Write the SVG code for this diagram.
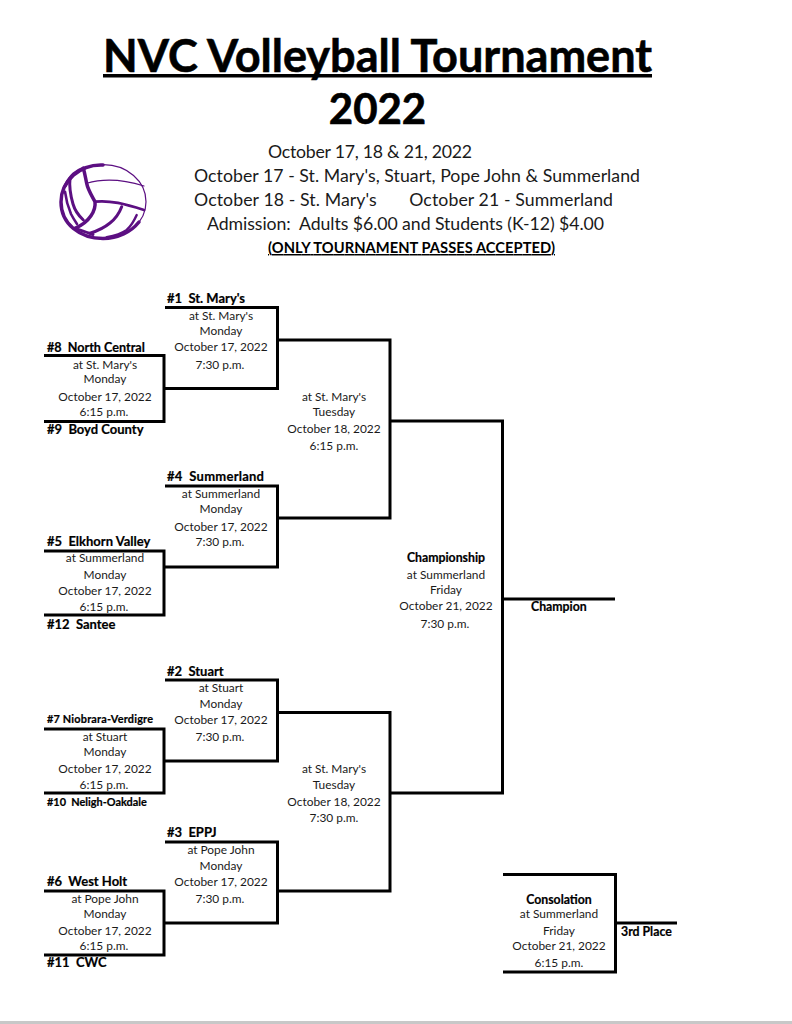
<svg xmlns="http://www.w3.org/2000/svg" width="792" height="1024" viewBox="0 0 792 1024">
<style>
text{font-family:Lato,"Liberation Sans",sans-serif;fill:#1a1a1a}
.t{font-size:11.9px;text-anchor:middle}
.b{font-size:12.3px;font-weight:700;fill:#000;stroke:#000;stroke-width:.2}
.s{font-size:13px}
.n{font-size:10.9px}
.w{fill:none;stroke:#000;stroke-width:3}
.v{fill:none;stroke:#5c0f82;stroke-linecap:round;stroke-linejoin:round}
</style>
<rect width="792" height="1024" fill="#fff"/>
<rect y="1021" width="792" height="3" fill="#c8c8c8"/>
<g id="title">
<text x="103" y="72" textLength="549" lengthAdjust="spacingAndGlyphs" style="font-size:45px;font-weight:700;fill:#000;stroke:#000;stroke-width:.6">NVC Volleyball Tournament</text>
<rect x="103" y="74" width="549" height="3.500" fill="#000"/>
<text x="377.500" y="124" text-anchor="middle" style="font-size:42px;font-weight:700;fill:#000;stroke:#000;stroke-width:.6">2022</text>
</g>
<g id="info">
<text x="268" y="157.500" textLength="204" style="font-size:17.700px">October 17, 18 &amp; 21, 2022</text>
<text x="194" y="182" textLength="446" style="font-size:17.700px">October 17 - St. Mary's, Stuart, Pope John &amp; Summerland</text>
<text x="194" y="206" textLength="419" xml:space="preserve" style="font-size:17.700px">October 18 - St. Mary's       October 21 - Summerland</text>
<text x="207" y="230" textLength="397" xml:space="preserve" style="font-size:17.700px">Admission:  Adults $6.00 and Students (K-12) $4.00</text>
<text x="268" y="253" textLength="287" style="font-size:14.700px;font-weight:700;fill:#000;text-decoration:underline">(ONLY TOURNAMENT PASSES ACCEPTED)</text>
</g>
<g id="volleyball">
<ellipse class="v" stroke-width="1.2" cx="103.500" cy="201.700" rx="42.500" ry="37"/>
<path class="v" stroke-width="3.500" d="M103 165C80 164 61 181 61 202C61 224 80 238.500 103 238.500C118 238.500 131 232 139 222"/>
<path class="v" stroke-width="3.500" d="M83.300 168.300C85 174 85.500 178 86.700 183.300C88 190 92 196 95 201.700C96 210 90 222 75 228.300"/>
<path class="v" stroke-width="1.200" d="M86.700 183.300C104 178 125 180 144 186"/>
<path class="v" stroke-width="2.800" d="M95 201.700C110 200 125 204 144 210"/>
<path class="v" stroke-width="3.500" d="M83.300 168.300C76 171 71 175 65 186"/>
<path class="v" stroke-width="3" d="M70 178.300C69 187 71 197 73 204C75 211 79 216 83.300 220"/>
<path class="v" stroke-width="2.600" d="M65 191.700C66 200 68 207 71 214C73 218 75 221 77 224"/>
<path class="v" stroke-width="3" d="M75 228.300C80 230 86 232 93 234.500"/>
<path class="v" stroke-width="3" d="M121.700 206.700C119 214 115 219 110 223C104 228 97 231 90 233.300"/>
<path class="v" stroke-width="2.400" d="M136.700 215C134 221 131 226 126.700 230C121 234 114 236 106.700 237.300"/>
</g>
<g id="connectors">
<path class="w" d="M165 307.500H277.500V388.500H165"/>
<path class="w" d="M44 355.500H164V421.500H44"/>
<path class="w" d="M278 340H390V518H278"/>
<path class="w" d="M165 486H277.500V567H165"/>
<path class="w" d="M44 551H164V615H44"/>
<path class="w" d="M165 680H277.500V761H165"/>
<path class="w" d="M44 729H164V793H44"/>
<path class="w" d="M278 712.500H390V891H278"/>
<path class="w" d="M165 842H277.500V923H165"/>
<path class="w" d="M44 891H164V955H44"/>
<path class="w" d="M391 421H502.500V793H391"/>
<path class="w" d="M503 599H615"/>
<path class="w" d="M503 874.500H615.500V972H503"/>
<path class="w" d="M616 923H677"/>
</g>
<g id="m1"><text class="b s" x="167" y="302.500" xml:space="preserve">#1  St. Mary's</text>
<text class="t" x="221" y="320">at St. Mary's</text><text class="t" x="221" y="335">Monday</text><text class="t" x="221" y="351">October 17, 2022</text><text class="t" x="220" y="369">7:30 p.m.</text></g>
<g id="m2"><text class="b" x="47" y="351.500" xml:space="preserve" style="font-size:12.600px">#8  North Central</text>
<text class="t" x="105" y="369">at St. Mary's</text><text class="t" x="105" y="383">Monday</text><text class="t" x="105" y="401">October 17, 2022</text><text class="t" x="104" y="416">6:15 p.m.</text>
<text class="b s" x="47" y="433.500" xml:space="preserve">#9  Boyd County</text></g>
<g id="m3"><text class="t" x="334" y="401">at St. Mary's</text><text class="t" x="334" y="416">Tuesday</text><text class="t" x="334" y="433">October 18, 2022</text><text class="t" x="334" y="450">6:15 p.m.</text></g>
<g id="m4"><text class="b s" x="167" y="480.500" xml:space="preserve" textLength="97">#4  Summerland</text>
<text class="t" x="221" y="498">at Summerland</text><text class="t" x="221" y="513">Monday</text><text class="t" x="221" y="531">October 17, 2022</text><text class="t" x="220" y="546">7:30 p.m.</text></g>
<g id="m5"><text class="b s" x="47" y="545.500" xml:space="preserve">#5  Elkhorn Valley</text>
<text class="t" x="105" y="562">at Summerland</text><text class="t" x="105" y="579">Monday</text><text class="t" x="105" y="595">October 17, 2022</text><text class="t" x="104" y="611">6:15 p.m.</text>
<text class="b s" x="47" y="628.500" xml:space="preserve">#12  Santee</text></g>
<g id="m6"><text class="b s" x="167" y="675.500" xml:space="preserve">#2  Stuart</text>
<text class="t" x="221" y="692">at Stuart</text><text class="t" x="221" y="708">Monday</text><text class="t" x="221" y="724">October 17, 2022</text><text class="t" x="220" y="741">7:30 p.m.</text></g>
<g id="m7"><text class="b n" x="47" y="723" textLength="106">#7 Niobrara-Verdigre</text>
<text class="t" x="105" y="741">at Stuart</text><text class="t" x="105" y="756">Monday</text><text class="t" x="105" y="773">October 17, 2022</text><text class="t" x="104" y="789">6:15 p.m.</text>
<text class="b n" x="47" y="806" xml:space="preserve">#10  Neligh-Oakdale</text></g>
<g id="m8"><text class="t" x="334" y="773">at St. Mary's</text><text class="t" x="334" y="789">Tuesday</text><text class="t" x="334" y="806">October 18, 2022</text><text class="t" x="334" y="822">7:30 p.m.</text></g>
<g id="m9"><text class="b s" x="167" y="836.500" xml:space="preserve">#3  EPPJ</text>
<text class="t" x="221" y="854">at Pope John</text><text class="t" x="221" y="870">Monday</text><text class="t" x="221" y="886">October 17, 2022</text><text class="t" x="220" y="903">7:30 p.m.</text></g>
<g id="m10"><text class="b s" x="47" y="885.500" xml:space="preserve">#6  West Holt</text>
<text class="t" x="105" y="903">at Pope John</text><text class="t" x="105" y="918">Monday</text><text class="t" x="105" y="935">October 17, 2022</text><text class="t" x="104" y="950">6:15 p.m.</text>
<text class="b s" x="47" y="966.500" xml:space="preserve">#11  CWC</text></g>
<g id="championship"><text class="b" x="446" y="561.500" text-anchor="middle">Championship</text>
<text class="t" x="446" y="579">at Summerland</text><text class="t" x="446" y="594">Friday</text><text class="t" x="446" y="610">October 21, 2022</text><text class="t" x="445" y="628">7:30 p.m.</text></g>
<g id="champion"><text class="b" x="531" y="610.500">Champion</text></g>
<g id="consolation"><text class="b" x="559" y="903.500" text-anchor="middle">Consolation</text>
<text class="t" x="559" y="918">at Summerland</text><text class="t" x="559" y="935">Friday</text><text class="t" x="559" y="950">October 21, 2022</text><text class="t" x="559" y="967">6:15 p.m.</text></g>
<g id="third"><text class="b" x="621" y="935.500">3rd Place</text></g>
</svg>
